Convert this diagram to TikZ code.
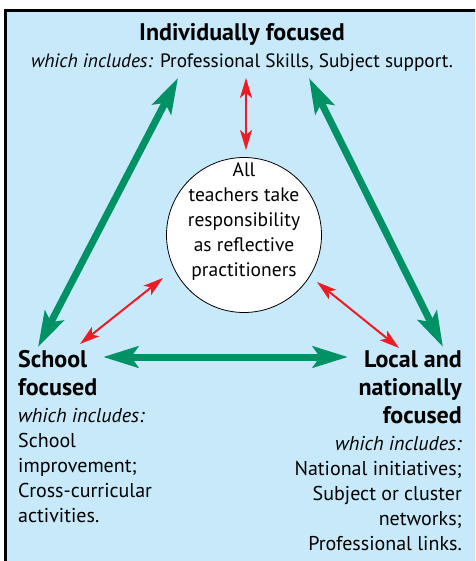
\documentclass[tikz,border=0pt]{standalone}
\usepackage{fontspec}
\setmainfont{PT Sans}
\usetikzlibrary{arrows.meta}

\definecolor{panelblue}{RGB}{199,233,249}
\definecolor{linkgreen}{RGB}{0,145,100}
\definecolor{linkred}{RGB}{237,28,36}

\begin{document}
\begin{tikzpicture}[
		x=1pt, y=-1pt,
		every node/.style={inner sep=0pt, font=\fontsize{20}{25}\selectfont},
		heading/.style={font=\fontsize{24}{28}\selectfont\bfseries},
		greenlink/.style={draw=linkgreen, line width=7pt,
			{Stealth[length=35pt,width=21pt,inset=7pt]}-{Stealth[length=35pt,width=21pt,inset=7pt]}},
		redlink/.style={draw=linkred, line width=2pt,
			{Stealth[length=20pt,width=12pt,inset=5pt]}-{Stealth[length=20pt,width=12pt,inset=5pt]}}
	]
  \clip (0,0) rectangle (475,561);
  \fill [white] (0,0) rectangle (475,561);
  \draw [fill=panelblue, line width=3pt] (5.5,11) rectangle (490,580);

  % top
  \node (ind) [heading, anchor=base] at (242,41) {Individually focused};
  \node (indsub) [anchor=base, font=\fontsize{19.3}{25}\selectfont] at (242,68)
    {\textit{which includes:} Professional Skills, Subject support.};

  % centre
  \node (all) [circle, draw, fill=white, line width=0.8pt, minimum size=155pt] at (244,235) {};
  \node (alltext) [align=center, font=\fontsize{19.5}{25}\selectfont] at (244,222)
    {All\\teachers take\\responsibility\\as reflective\\practitioners};

  % left
  \node (school) [heading, anchor=north west, align=left] at (18,350) {School\\focused};
  \node (schoolsub) [anchor=north west, align=left] at (18,408.5)
    {\textit{which includes:}\\School\\improvement;\\Cross-curricular\\activities.};

  % right
  \node (local) [heading, anchor=north east, align=right] at (462,350) {Local and\\nationally\\focused};
  \node (localsub) [anchor=north east, align=right] at (462,436.5)
    {\textit{which includes:}\\National initiatives;\\Subject or cluster\\networks;\\Professional links.};

  % arrow ends
  \coordinate (ind-l) at (178,78);
  \coordinate (ind-r) at (309,78);
  \coordinate (ind-c) at (246,78);
  \coordinate (school-t) at (38,347);
  \coordinate (school-r) at (103,357);
  \coordinate (school-c) at (80,344);
  \coordinate (local-t) at (443,347);
  \coordinate (local-l) at (348,357);
  \coordinate (local-c) at (399,348);
  \coordinate (all-t) at (246,150);
  \coordinate (all-l) at (163,278);
  \coordinate (all-r) at (317,282);

  \draw [greenlink] (ind-l) -- (school-t);
  \draw [greenlink] (ind-r) -- (local-t);
  \draw [greenlink] (school-r) -- (local-l);
  \draw [redlink] (ind-c) -- (all-t);
  \draw [redlink] (all-l) -- (school-c);
  \draw [redlink] (all-r) -- (local-c);
\end{tikzpicture}
\end{document}
